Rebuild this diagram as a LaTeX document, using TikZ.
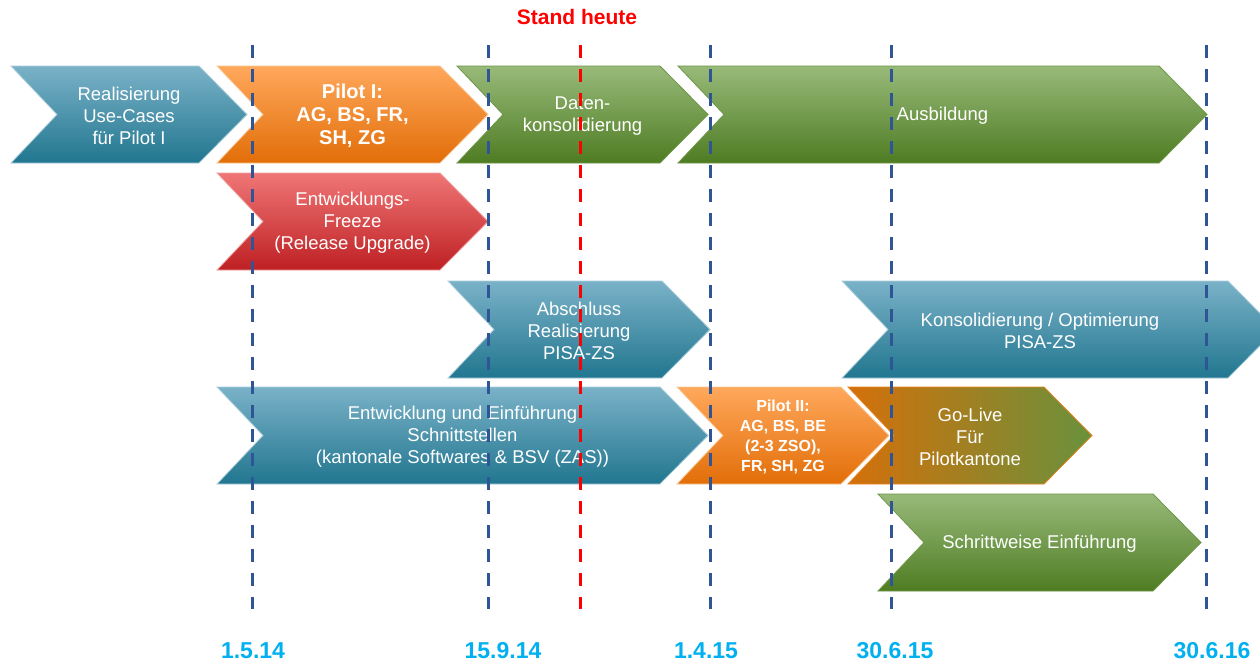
\documentclass[tikz,border=0pt]{standalone}
\usepackage{fontspec}
\setmainfont{Liberation Sans}
\begin{document}
\begin{tikzpicture}[x=1pt,y=-1pt,
  lbl/.style={text=white,align=center,font=\fontsize{18.5}{22}\selectfont,inner sep=0pt},
  blbl/.style={text=white,align=center,font=\fontsize{20}{23}\selectfont\bfseries,inner sep=0pt},
  sblbl/.style={text=white,align=center,font=\fontsize{16}{20}\selectfont\bfseries,inner sep=0pt},
  bluechev/.style={top color={rgb,255:red,122;green,178;blue,200},bottom color={rgb,255:red,33;green,118;blue,143},draw={rgb,255:red,170;green,205;blue,218},line width=0.8pt},
  greenchev/.style={top color={rgb,255:red,152;green,186;blue,122},bottom color={rgb,255:red,78;green,124;blue,34},draw={rgb,255:red,110;green,150;blue,70},line width=0.8pt},
  orangechev/.style={top color={rgb,255:red,255;green,168;blue,92},bottom color={rgb,255:red,226;green,110;blue,8},draw={rgb,255:red,250;green,200;blue,150},line width=0.8pt},
  redchev/.style={top color={rgb,255:red,240;green,118;blue,118},bottom color={rgb,255:red,190;green,32;blue,35},draw={rgb,255:red,240;green,160;blue,160},line width=0.8pt},
  golivechev/.style={left color={rgb,255:red,212;green,112;blue,10},right color={rgb,255:red,105;green,145;blue,60},draw={rgb,255:red,230;green,130;blue,30},line width=0.8pt},
  bluedash/.style={draw={rgb,255:red,47;green,85;blue,151},line width=3pt,dash pattern=on 13pt off 11pt},
  reddash/.style={draw={rgb,255:red,255;green,0;blue,0},line width=3pt,dash pattern=on 13pt off 11pt},
  datelbl/.style={text={rgb,255:red,0;green,176;blue,240},font=\fontsize{23}{26}\selectfont\bfseries,inner sep=0pt},
]
\clip (0,0) rectangle (1260,664);
\fill[white] (0,0) rectangle (1260,664);
\newcommand{\chev}[7]{%
  \path[#1] (#2,#3) -- ({#4-48},#3) -- (#4,#3+48.5) -- ({#4-48},#3+97) -- (#2,#3+97) -- ({#2+46},#3+48.5) -- cycle;
  \node[#5] (#6) at ({(#2+#4)/2},#3+50) {#7};
}
% row 1
\chev{bluechev}{11}{66}{247}{lbl}{real}{Realisierung\\Use-Cases\\für Pilot I}
\chev{orangechev}{217}{66}{488}{blbl}{pilot1}{Pilot I:\\AG, BS, FR,\\SH, ZG}
\chev{greenchev}{457}{66}{708}{lbl}{daten}{Daten-\\konsolidierung}
\chev{greenchev}{678}{66}{1207}{lbl}{ausb}{Ausbildung}
% row 2
\chev{redchev}{217}{173}{488}{lbl}{freeze}{Entwicklungs-\\Freeze\\(Release Upgrade)}
% row 3
\chev{bluechev}{448}{281}{710}{lbl}{absch}{Abschluss\\Realisierung\\PISA-ZS}
\path[bluechev] (842,281) -- (1228,281) -- (1276,329.5) -- (1228,378) -- (842,378) -- (888,329.5) -- cycle;
\node[lbl] (konso) at (1040,331) {Konsolidierung / Optimierung\\PISA-ZS};
% row 4
\chev{bluechev}{217}{387}{708}{lbl}{entw}{Entwicklung und Einführung\\Schnittstellen\\(kantonale Softwares \& BSV (ZAS))}
\chev{orangechev}{677}{387}{889}{sblbl}{pilot2}{Pilot II:\\AG, BS, BE\\(2-3 ZSO),\\FR, SH, ZG}
\chev{golivechev}{848}{387}{1092}{lbl}{golive}{Go-Live\\Für\\Pilotkantone}
% row 5
\chev{greenchev}{878}{494}{1201}{lbl}{schritt}{Schrittweise Einführung}
% time lines
\foreach \n/\xx in {a/252,b/488,c/710,d/891,e/1206}{
  \coordinate (\n top) at (\xx,45);
  \coordinate (\n bot) at (\xx,609);
  \draw[bluedash] (\n top) -- (\n bot);
}
\coordinate (rtop) at (580,45);
\coordinate (rbot) at (580,609);
\draw[reddash] (rtop) -- (rbot);
\node[text={rgb,255:red,255;green,0;blue,0},font=\fontsize{21}{24}\selectfont\bfseries,inner sep=0pt] (stand) at (577,17) {Stand heute};
% dates
\node[datelbl] (d1) at (253,651) {1.5.14};
\node[datelbl] (d2) at (503,651) {15.9.14};
\node[datelbl] (d3) at (706,651) {1.4.15};
\node[datelbl] (d4) at (895,651) {30.6.15};
\node[datelbl] (d5) at (1212,651) {30.6.16};
\end{tikzpicture}
\end{document}
